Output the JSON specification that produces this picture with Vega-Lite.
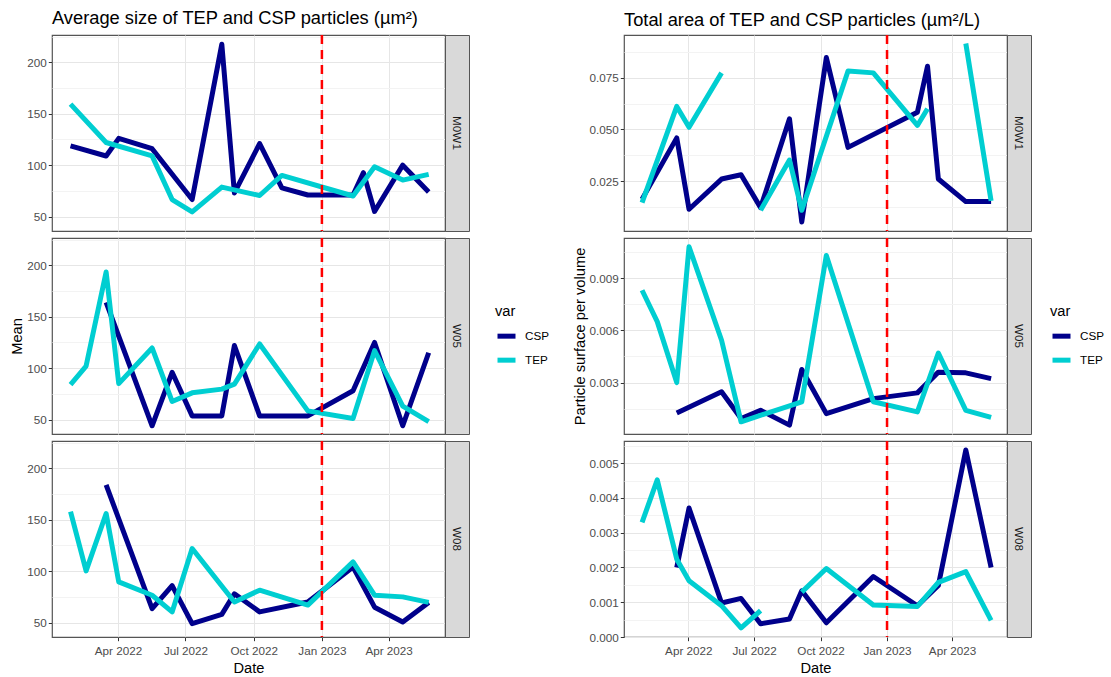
{
  "$schema": "https://vega.github.io/schema/vega-lite/v6.json",
  "background": "white",
  "padding": {"left": 9, "top": 8, "right": 2, "bottom": 2},
  "datasets": {
    "cutoff": [{"date": "2023-01-01"}],
    "obs": [
      {"plot": "size", "site": "M0W1", "var": "CSP", "date": "2022-01-27", "value": 118.7},
      {"plot": "size", "site": "M0W1", "var": "CSP", "date": "2022-03-16", "value": 108.9},
      {"plot": "size", "site": "M0W1", "var": "CSP", "date": "2022-04-02", "value": 126},
      {"plot": "size", "site": "M0W1", "var": "CSP", "date": "2022-05-17", "value": 116},
      {"plot": "size", "site": "M0W1", "var": "CSP", "date": "2022-07-10", "value": 66.6},
      {"plot": "size", "site": "M0W1", "var": "CSP", "date": "2022-08-19", "value": 217.5},
      {"plot": "size", "site": "M0W1", "var": "CSP", "date": "2022-09-05", "value": 73},
      {"plot": "size", "site": "M0W1", "var": "CSP", "date": "2022-10-09", "value": 121},
      {"plot": "size", "site": "M0W1", "var": "CSP", "date": "2022-11-08", "value": 78},
      {"plot": "size", "site": "M0W1", "var": "CSP", "date": "2022-12-13", "value": 71},
      {"plot": "size", "site": "M0W1", "var": "CSP", "date": "2023-02-12", "value": 71},
      {"plot": "size", "site": "M0W1", "var": "CSP", "date": "2023-02-26", "value": 92.7},
      {"plot": "size", "site": "M0W1", "var": "CSP", "date": "2023-03-13", "value": 55},
      {"plot": "size", "site": "M0W1", "var": "CSP", "date": "2023-04-20", "value": 100},
      {"plot": "size", "site": "M0W1", "var": "CSP", "date": "2023-05-25", "value": 74},
      {"plot": "size", "site": "M0W1", "var": "TEP", "date": "2022-01-27", "value": 159.3},
      {"plot": "size", "site": "M0W1", "var": "TEP", "date": "2022-03-16", "value": 122},
      {"plot": "size", "site": "M0W1", "var": "TEP", "date": "2022-05-17", "value": 109},
      {"plot": "size", "site": "M0W1", "var": "TEP", "date": "2022-06-13", "value": 66.6},
      {"plot": "size", "site": "M0W1", "var": "TEP", "date": "2022-07-10", "value": 54.6},
      {"plot": "size", "site": "M0W1", "var": "TEP", "date": "2022-08-19", "value": 78.7},
      {"plot": "size", "site": "M0W1", "var": "TEP", "date": "2022-10-09", "value": 70.5},
      {"plot": "size", "site": "M0W1", "var": "TEP", "date": "2022-11-08", "value": 90},
      {"plot": "size", "site": "M0W1", "var": "TEP", "date": "2023-02-12", "value": 70},
      {"plot": "size", "site": "M0W1", "var": "TEP", "date": "2023-03-13", "value": 98.5},
      {"plot": "size", "site": "M0W1", "var": "TEP", "date": "2023-04-20", "value": 85.5},
      {"plot": "size", "site": "M0W1", "var": "TEP", "date": "2023-05-25", "value": 91},
      {"plot": "size", "site": "W05", "var": "CSP", "date": "2022-03-16", "value": 164},
      {"plot": "size", "site": "W05", "var": "CSP", "date": "2022-05-17", "value": 44},
      {"plot": "size", "site": "W05", "var": "CSP", "date": "2022-06-13", "value": 96},
      {"plot": "size", "site": "W05", "var": "CSP", "date": "2022-07-10", "value": 53.6},
      {"plot": "size", "site": "W05", "var": "CSP", "date": "2022-08-19", "value": 53.6},
      {"plot": "size", "site": "W05", "var": "CSP", "date": "2022-09-05", "value": 122},
      {"plot": "size", "site": "W05", "var": "CSP", "date": "2022-10-09", "value": 53.6},
      {"plot": "size", "site": "W05", "var": "CSP", "date": "2022-12-13", "value": 53.6},
      {"plot": "size", "site": "W05", "var": "CSP", "date": "2023-02-12", "value": 78},
      {"plot": "size", "site": "W05", "var": "CSP", "date": "2023-03-13", "value": 125},
      {"plot": "size", "site": "W05", "var": "CSP", "date": "2023-04-20", "value": 44},
      {"plot": "size", "site": "W05", "var": "CSP", "date": "2023-05-25", "value": 115},
      {"plot": "size", "site": "W05", "var": "TEP", "date": "2022-01-27", "value": 84},
      {"plot": "size", "site": "W05", "var": "TEP", "date": "2022-02-17", "value": 102},
      {"plot": "size", "site": "W05", "var": "TEP", "date": "2022-03-16", "value": 193.5},
      {"plot": "size", "site": "W05", "var": "TEP", "date": "2022-04-02", "value": 85},
      {"plot": "size", "site": "W05", "var": "TEP", "date": "2022-05-17", "value": 119.6},
      {"plot": "size", "site": "W05", "var": "TEP", "date": "2022-06-13", "value": 67.6},
      {"plot": "size", "site": "W05", "var": "TEP", "date": "2022-07-10", "value": 76},
      {"plot": "size", "site": "W05", "var": "TEP", "date": "2022-08-19", "value": 79.6},
      {"plot": "size", "site": "W05", "var": "TEP", "date": "2022-09-05", "value": 84.5},
      {"plot": "size", "site": "W05", "var": "TEP", "date": "2022-10-09", "value": 123.5},
      {"plot": "size", "site": "W05", "var": "TEP", "date": "2022-12-13", "value": 58.5},
      {"plot": "size", "site": "W05", "var": "TEP", "date": "2023-02-12", "value": 51},
      {"plot": "size", "site": "W05", "var": "TEP", "date": "2023-03-13", "value": 117},
      {"plot": "size", "site": "W05", "var": "TEP", "date": "2023-04-20", "value": 63},
      {"plot": "size", "site": "W05", "var": "TEP", "date": "2023-05-25", "value": 48},
      {"plot": "size", "site": "W08", "var": "CSP", "date": "2022-03-16", "value": 183.8},
      {"plot": "size", "site": "W08", "var": "CSP", "date": "2022-05-17", "value": 63.6},
      {"plot": "size", "site": "W08", "var": "CSP", "date": "2022-06-13", "value": 86},
      {"plot": "size", "site": "W08", "var": "CSP", "date": "2022-07-10", "value": 49},
      {"plot": "size", "site": "W08", "var": "CSP", "date": "2022-08-19", "value": 58},
      {"plot": "size", "site": "W08", "var": "CSP", "date": "2022-09-05", "value": 78},
      {"plot": "size", "site": "W08", "var": "CSP", "date": "2022-10-09", "value": 60.4},
      {"plot": "size", "site": "W08", "var": "CSP", "date": "2022-12-13", "value": 70},
      {"plot": "size", "site": "W08", "var": "CSP", "date": "2023-02-12", "value": 104},
      {"plot": "size", "site": "W08", "var": "CSP", "date": "2023-03-13", "value": 65},
      {"plot": "size", "site": "W08", "var": "CSP", "date": "2023-04-20", "value": 50.6},
      {"plot": "size", "site": "W08", "var": "CSP", "date": "2023-05-25", "value": 69.6},
      {"plot": "size", "site": "W08", "var": "TEP", "date": "2022-01-27", "value": 157.8},
      {"plot": "size", "site": "W08", "var": "TEP", "date": "2022-02-17", "value": 100.3},
      {"plot": "size", "site": "W08", "var": "TEP", "date": "2022-03-16", "value": 156},
      {"plot": "size", "site": "W08", "var": "TEP", "date": "2022-04-02", "value": 89.6},
      {"plot": "size", "site": "W08", "var": "TEP", "date": "2022-05-17", "value": 76.6},
      {"plot": "size", "site": "W08", "var": "TEP", "date": "2022-06-13", "value": 60.4},
      {"plot": "size", "site": "W08", "var": "TEP", "date": "2022-07-10", "value": 122},
      {"plot": "size", "site": "W08", "var": "TEP", "date": "2022-09-05", "value": 70},
      {"plot": "size", "site": "W08", "var": "TEP", "date": "2022-10-09", "value": 81.5},
      {"plot": "size", "site": "W08", "var": "TEP", "date": "2022-12-13", "value": 67},
      {"plot": "size", "site": "W08", "var": "TEP", "date": "2023-02-12", "value": 109},
      {"plot": "size", "site": "W08", "var": "TEP", "date": "2023-03-13", "value": 76.6},
      {"plot": "size", "site": "W08", "var": "TEP", "date": "2023-04-20", "value": 75},
      {"plot": "size", "site": "W08", "var": "TEP", "date": "2023-05-25", "value": 69.6},
      {"plot": "area", "site": "M0W1", "var": "CSP", "date": "2022-01-27", "value": 0.0163},
      {"plot": "area", "site": "M0W1", "var": "CSP", "date": "2022-03-16", "value": 0.0459},
      {"plot": "area", "site": "M0W1", "var": "CSP", "date": "2022-04-02", "value": 0.0114},
      {"plot": "area", "site": "M0W1", "var": "CSP", "date": "2022-05-17", "value": 0.026},
      {"plot": "area", "site": "M0W1", "var": "CSP", "date": "2022-06-13", "value": 0.0281},
      {"plot": "area", "site": "M0W1", "var": "CSP", "date": "2022-07-10", "value": 0.0122},
      {"plot": "area", "site": "M0W1", "var": "CSP", "date": "2022-08-19", "value": 0.0551},
      {"plot": "area", "site": "M0W1", "var": "CSP", "date": "2022-09-05", "value": 0.0053},
      {"plot": "area", "site": "M0W1", "var": "CSP", "date": "2022-10-09", "value": 0.0847},
      {"plot": "area", "site": "M0W1", "var": "CSP", "date": "2022-11-08", "value": 0.0413},
      {"plot": "area", "site": "M0W1", "var": "CSP", "date": "2023-02-12", "value": 0.0583},
      {"plot": "area", "site": "M0W1", "var": "CSP", "date": "2023-02-26", "value": 0.0805},
      {"plot": "area", "site": "M0W1", "var": "CSP", "date": "2023-03-13", "value": 0.026},
      {"plot": "area", "site": "M0W1", "var": "CSP", "date": "2023-04-20", "value": 0.0151},
      {"plot": "area", "site": "M0W1", "var": "CSP", "date": "2023-05-25", "value": 0.0151},
      {"plot": "area", "site": "M0W1", "var": "TEP", "date": "2022-01-27", "value": 0.0146},
      {"plot": "area", "site": "M0W1", "var": "TEP", "date": "2022-03-16", "value": 0.0611},
      {"plot": "area", "site": "M0W1", "var": "TEP", "date": "2022-04-02", "value": 0.051},
      {"plot": "area", "site": "M0W1", "var": "TEP", "date": "2022-05-17", "value": 0.0773},
      {"plot": "area", "site": "M0W1", "var": "TEP", "date": "2022-06-13", "value": null},
      {"plot": "area", "site": "M0W1", "var": "TEP", "date": "2022-07-10", "value": 0.0109},
      {"plot": "area", "site": "M0W1", "var": "TEP", "date": "2022-08-19", "value": 0.0352},
      {"plot": "area", "site": "M0W1", "var": "TEP", "date": "2022-09-05", "value": 0.0109},
      {"plot": "area", "site": "M0W1", "var": "TEP", "date": "2022-11-08", "value": 0.0782},
      {"plot": "area", "site": "M0W1", "var": "TEP", "date": "2022-12-13", "value": 0.0773},
      {"plot": "area", "site": "M0W1", "var": "TEP", "date": "2023-02-12", "value": 0.0519},
      {"plot": "area", "site": "M0W1", "var": "TEP", "date": "2023-02-26", "value": 0.06},
      {"plot": "area", "site": "M0W1", "var": "TEP", "date": "2023-03-13", "value": null},
      {"plot": "area", "site": "M0W1", "var": "TEP", "date": "2023-04-20", "value": 0.0915},
      {"plot": "area", "site": "M0W1", "var": "TEP", "date": "2023-05-25", "value": 0.0155},
      {"plot": "area", "site": "W05", "var": "CSP", "date": "2022-03-16", "value": 0.00126},
      {"plot": "area", "site": "W05", "var": "CSP", "date": "2022-05-17", "value": 0.00247},
      {"plot": "area", "site": "W05", "var": "CSP", "date": "2022-06-13", "value": 0.00094},
      {"plot": "area", "site": "W05", "var": "CSP", "date": "2022-07-10", "value": 0.00141},
      {"plot": "area", "site": "W05", "var": "CSP", "date": "2022-08-19", "value": 0.00056},
      {"plot": "area", "site": "W05", "var": "CSP", "date": "2022-09-05", "value": 0.00375},
      {"plot": "area", "site": "W05", "var": "CSP", "date": "2022-10-09", "value": 0.00122},
      {"plot": "area", "site": "W05", "var": "CSP", "date": "2022-12-13", "value": 0.00208},
      {"plot": "area", "site": "W05", "var": "CSP", "date": "2023-02-12", "value": 0.00241},
      {"plot": "area", "site": "W05", "var": "CSP", "date": "2023-03-13", "value": 0.0036},
      {"plot": "area", "site": "W05", "var": "CSP", "date": "2023-04-20", "value": 0.00356},
      {"plot": "area", "site": "W05", "var": "CSP", "date": "2023-05-25", "value": 0.00323},
      {"plot": "area", "site": "W05", "var": "TEP", "date": "2022-01-27", "value": 0.0083},
      {"plot": "area", "site": "W05", "var": "TEP", "date": "2022-02-17", "value": 0.0065},
      {"plot": "area", "site": "W05", "var": "TEP", "date": "2022-03-16", "value": 0.003},
      {"plot": "area", "site": "W05", "var": "TEP", "date": "2022-04-02", "value": 0.0108},
      {"plot": "area", "site": "W05", "var": "TEP", "date": "2022-05-17", "value": 0.00543},
      {"plot": "area", "site": "W05", "var": "TEP", "date": "2022-06-13", "value": 0.00075},
      {"plot": "area", "site": "W05", "var": "TEP", "date": "2022-09-05", "value": 0.0019},
      {"plot": "area", "site": "W05", "var": "TEP", "date": "2022-10-09", "value": 0.0103},
      {"plot": "area", "site": "W05", "var": "TEP", "date": "2022-12-13", "value": 0.0019},
      {"plot": "area", "site": "W05", "var": "TEP", "date": "2023-02-12", "value": 0.00132},
      {"plot": "area", "site": "W05", "var": "TEP", "date": "2023-03-13", "value": 0.0047},
      {"plot": "area", "site": "W05", "var": "TEP", "date": "2023-04-20", "value": 0.00141},
      {"plot": "area", "site": "W05", "var": "TEP", "date": "2023-05-25", "value": 0.001},
      {"plot": "area", "site": "W08", "var": "CSP", "date": "2022-03-16", "value": 0.002},
      {"plot": "area", "site": "W08", "var": "CSP", "date": "2022-04-02", "value": 0.00371},
      {"plot": "area", "site": "W08", "var": "CSP", "date": "2022-05-17", "value": 0.00098},
      {"plot": "area", "site": "W08", "var": "CSP", "date": "2022-06-13", "value": 0.00111},
      {"plot": "area", "site": "W08", "var": "CSP", "date": "2022-07-10", "value": 0.00038},
      {"plot": "area", "site": "W08", "var": "CSP", "date": "2022-08-19", "value": 0.00052},
      {"plot": "area", "site": "W08", "var": "CSP", "date": "2022-09-05", "value": 0.00133},
      {"plot": "area", "site": "W08", "var": "CSP", "date": "2022-10-09", "value": 0.00041},
      {"plot": "area", "site": "W08", "var": "CSP", "date": "2022-12-13", "value": 0.00174},
      {"plot": "area", "site": "W08", "var": "CSP", "date": "2023-02-12", "value": 0.0009},
      {"plot": "area", "site": "W08", "var": "CSP", "date": "2023-03-13", "value": 0.00148},
      {"plot": "area", "site": "W08", "var": "CSP", "date": "2023-04-20", "value": 0.00538},
      {"plot": "area", "site": "W08", "var": "CSP", "date": "2023-05-25", "value": 0.002},
      {"plot": "area", "site": "W08", "var": "TEP", "date": "2022-01-27", "value": 0.0033},
      {"plot": "area", "site": "W08", "var": "TEP", "date": "2022-02-17", "value": 0.00452},
      {"plot": "area", "site": "W08", "var": "TEP", "date": "2022-03-16", "value": 0.00224},
      {"plot": "area", "site": "W08", "var": "TEP", "date": "2022-04-02", "value": 0.00162},
      {"plot": "area", "site": "W08", "var": "TEP", "date": "2022-05-17", "value": 0.0009},
      {"plot": "area", "site": "W08", "var": "TEP", "date": "2022-06-13", "value": 0.00026},
      {"plot": "area", "site": "W08", "var": "TEP", "date": "2022-07-10", "value": 0.00076},
      {"plot": "area", "site": "W08", "var": "TEP", "date": "2022-08-19", "value": null},
      {"plot": "area", "site": "W08", "var": "TEP", "date": "2022-09-05", "value": 0.00129},
      {"plot": "area", "site": "W08", "var": "TEP", "date": "2022-10-09", "value": 0.00197},
      {"plot": "area", "site": "W08", "var": "TEP", "date": "2022-12-13", "value": 0.00092},
      {"plot": "area", "site": "W08", "var": "TEP", "date": "2023-02-12", "value": 0.00088},
      {"plot": "area", "site": "W08", "var": "TEP", "date": "2023-03-13", "value": 0.00157},
      {"plot": "area", "site": "W08", "var": "TEP", "date": "2023-04-20", "value": 0.00188},
      {"plot": "area", "site": "W08", "var": "TEP", "date": "2023-05-25", "value": 0.00048}
    ]
  },
  "spacing": 21,
  "resolve": {"scale": {"color": "independent"}},
  "hconcat": [
    {
      "columns": 2,
      "bounds": "flush",
      "spacing": {"row": 7, "column": 0},
      "concat": [
        {
          "width": 393, "height": 196,
          "title": {"text": "Average size of TEP and CSP particles (µm²)"},
          "resolve": {"axis": {"x": "independent"}},
          "layer": [
            {
              "data": {"name": "obs"},
              "transform": [{"filter": "datum.plot === 'size' && datum.site === 'M0W1'"}],
              "mark": {"type": "line", "strokeWidth": 5, "invalid": "break-paths-show-domains"},
              "encoding": {
                "x": {"field": "date", "type": "temporal", "scale": {"domain": [1641081600000, 1686873600000]},
                  "axis": {"title": null, "labels": false, "ticks": false, "tickCount": {"interval": "month", "step": 3}, "gridColor": "#e6e6e6"}},
                "y": {"field": "value", "type": "quantitative", "scale": {"domain": [36, 226.5], "nice": false, "zero": false},
                  "axis": {"title": null, "values": [50, 75, 100, 125, 150, 175, 200, 225],
                    "labelExpr": "datum.value % 50 === 0 ? datum.label : ''",
                    "gridColor": {"condition": {"test": "datum.value % 50 === 0", "value": "#e6e6e6"}, "value": "#f3f3f3"},
                    "tickOpacity": {"condition": {"test": "datum.value % 50 === 0", "value": 1}, "value": 0}}},
                "color": {"field": "var", "type": "nominal", "scale": {"domain": ["CSP", "TEP"], "range": ["#00008b", "#00ced1"]},
                  "legend": {"title": "var", "orient": "none", "legendX": 443, "legendY": 269}}
              }
            },
            {
              "data": {"name": "cutoff"},
              "mark": {"type": "rule", "color": "#ff0000", "strokeWidth": 2.5, "strokeDash": [9, 6]},
              "encoding": {"x": {"field": "date", "type": "temporal",
                "axis": {"title": null, "labels": false, "ticks": false, "values": [1644883200000, 1652659200000, 1660608000000, 1668556800000, 1676419200000, 1684195200000], "gridColor": "#f3f3f3"}}}
            }
          ]
        },
        {
          "width": 24, "height": 196,
          "view": {"fill": "#d9d9d9", "stroke": "#555555"},
          "data": {"values": [{"site": "M0W1"}]},
          "mark": {"type": "text", "angle": 90, "fontSize": 11.7, "color": "#1a1a1a", "align": "center", "baseline": "middle"},
          "encoding": {"text": {"field": "site"}}
        },
        {
          "width": 393, "height": 196,
          "resolve": {"axis": {"x": "independent"}},
          "layer": [
            {
              "data": {"name": "obs"},
              "transform": [{"filter": "datum.plot === 'size' && datum.site === 'W05'"}],
              "mark": {"type": "line", "strokeWidth": 5, "invalid": "break-paths-show-domains"},
              "encoding": {
                "x": {"field": "date", "type": "temporal", "scale": {"domain": [1641081600000, 1686873600000]},
                  "axis": {"title": null, "labels": false, "ticks": false, "tickCount": {"interval": "month", "step": 3}, "gridColor": "#e6e6e6"}},
                "y": {"field": "value", "type": "quantitative", "scale": {"domain": [36, 226.5], "nice": false, "zero": false},
                  "axis": {"title": "Mean", "values": [50, 75, 100, 125, 150, 175, 200, 225],
                    "labelExpr": "datum.value % 50 === 0 ? datum.label : ''",
                    "gridColor": {"condition": {"test": "datum.value % 50 === 0", "value": "#e6e6e6"}, "value": "#f3f3f3"},
                    "tickOpacity": {"condition": {"test": "datum.value % 50 === 0", "value": 1}, "value": 0}}},
                "color": {"field": "var", "type": "nominal", "scale": {"domain": ["CSP", "TEP"], "range": ["#00008b", "#00ced1"]},
                  "legend": {"title": "var", "orient": "none", "legendX": 443, "legendY": 269}}
              }
            },
            {
              "data": {"name": "cutoff"},
              "mark": {"type": "rule", "color": "#ff0000", "strokeWidth": 2.5, "strokeDash": [9, 6]},
              "encoding": {"x": {"field": "date", "type": "temporal",
                "axis": {"title": null, "labels": false, "ticks": false, "values": [1644883200000, 1652659200000, 1660608000000, 1668556800000, 1676419200000, 1684195200000], "gridColor": "#f3f3f3"}}}
            }
          ]
        },
        {
          "width": 24, "height": 196,
          "view": {"fill": "#d9d9d9", "stroke": "#555555"},
          "data": {"values": [{"site": "W05"}]},
          "mark": {"type": "text", "angle": 90, "fontSize": 11.7, "color": "#1a1a1a", "align": "center", "baseline": "middle"},
          "encoding": {"text": {"field": "site"}}
        },
        {
          "width": 393, "height": 196,
          "resolve": {"axis": {"x": "independent"}},
          "layer": [
            {
              "data": {"name": "obs"},
              "transform": [{"filter": "datum.plot === 'size' && datum.site === 'W08'"}],
              "mark": {"type": "line", "strokeWidth": 5, "invalid": "break-paths-show-domains"},
              "encoding": {
                "x": {"field": "date", "type": "temporal", "scale": {"domain": [1641081600000, 1686873600000]},
                  "axis": {"title": "Date", "titlePadding": 3, "labelPadding": 5, "format": "%b %Y", "tickCount": {"interval": "month", "step": 3}, "gridColor": "#e6e6e6"}},
                "y": {"field": "value", "type": "quantitative", "scale": {"domain": [36, 226.5], "nice": false, "zero": false},
                  "axis": {"title": null, "values": [50, 75, 100, 125, 150, 175, 200, 225],
                    "labelExpr": "datum.value % 50 === 0 ? datum.label : ''",
                    "gridColor": {"condition": {"test": "datum.value % 50 === 0", "value": "#e6e6e6"}, "value": "#f3f3f3"},
                    "tickOpacity": {"condition": {"test": "datum.value % 50 === 0", "value": 1}, "value": 0}}},
                "color": {"field": "var", "type": "nominal", "scale": {"domain": ["CSP", "TEP"], "range": ["#00008b", "#00ced1"]},
                  "legend": {"title": "var", "orient": "none", "legendX": 443, "legendY": 269}}
              }
            },
            {
              "data": {"name": "cutoff"},
              "mark": {"type": "rule", "color": "#ff0000", "strokeWidth": 2.5, "strokeDash": [9, 6]},
              "encoding": {"x": {"field": "date", "type": "temporal",
                "axis": {"title": null, "labels": false, "ticks": false, "values": [1644883200000, 1652659200000, 1660608000000, 1668556800000, 1676419200000, 1684195200000], "gridColor": "#f3f3f3"}}}
            }
          ]
        },
        {
          "width": 24, "height": 196,
          "view": {"fill": "#d9d9d9", "stroke": "#555555"},
          "data": {"values": [{"site": "W08"}]},
          "mark": {"type": "text", "angle": 90, "fontSize": 11.7, "color": "#1a1a1a", "align": "center", "baseline": "middle"},
          "encoding": {"text": {"field": "site"}}
        }
      ]
    },
    {
      "columns": 2,
      "bounds": "flush",
      "spacing": {"row": 7, "column": 0},
      "concat": [
        {
          "width": 383, "height": 196,
          "title": {"text": "Total area of TEP and CSP particles (µm²/L)"},
          "resolve": {"axis": {"x": "independent"}},
          "layer": [
            {
              "data": {"name": "obs"},
              "transform": [{"filter": "datum.plot === 'area' && datum.site === 'M0W1'"}],
              "mark": {"type": "line", "strokeWidth": 5, "invalid": "break-paths-show-domains"},
              "encoding": {
                "x": {"field": "date", "type": "temporal", "scale": {"domain": [1641081600000, 1686873600000]},
                  "axis": {"title": null, "labels": false, "ticks": false, "tickCount": {"interval": "month", "step": 3}, "gridColor": "#e6e6e6"}},
                "y": {"field": "value", "type": "quantitative", "scale": {"domain": [0.0009, 0.0956], "nice": false, "zero": false},
                  "axis": {"title": null, "format": ".3f", "values": [0.0125, 0.025, 0.0375, 0.05, 0.0625, 0.075, 0.0875],
                    "labelExpr": "abs(datum.value * 40 - round(datum.value * 40)) < 0.001 ? datum.label : ''",
                    "gridColor": {"condition": {"test": "abs(datum.value * 40 - round(datum.value * 40)) < 0.001", "value": "#e6e6e6"}, "value": "#f3f3f3"},
                    "tickOpacity": {"condition": {"test": "abs(datum.value * 40 - round(datum.value * 40)) < 0.001", "value": 1}, "value": 0}}},
                "color": {"field": "var", "type": "nominal", "scale": {"domain": ["CSP", "TEP"], "range": ["#00008b", "#00ced1"]},
                  "legend": {"title": "var", "orient": "none", "legendX": 426, "legendY": 269}}
              }
            },
            {
              "data": {"name": "cutoff"},
              "mark": {"type": "rule", "color": "#ff0000", "strokeWidth": 2.5, "strokeDash": [9, 6]},
              "encoding": {"x": {"field": "date", "type": "temporal",
                "axis": {"title": null, "labels": false, "ticks": false, "values": [1644883200000, 1652659200000, 1660608000000, 1668556800000, 1676419200000, 1684195200000], "gridColor": "#f3f3f3"}}}
            }
          ]
        },
        {
          "width": 24, "height": 196,
          "view": {"fill": "#d9d9d9", "stroke": "#555555"},
          "data": {"values": [{"site": "M0W1"}]},
          "mark": {"type": "text", "angle": 90, "fontSize": 11.7, "color": "#1a1a1a", "align": "center", "baseline": "middle"},
          "encoding": {"text": {"field": "site"}}
        },
        {
          "width": 383, "height": 196,
          "resolve": {"axis": {"x": "independent"}},
          "layer": [
            {
              "data": {"name": "obs"},
              "transform": [{"filter": "datum.plot === 'area' && datum.site === 'W05'"}],
              "mark": {"type": "line", "strokeWidth": 5, "invalid": "break-paths-show-domains"},
              "encoding": {
                "x": {"field": "date", "type": "temporal", "scale": {"domain": [1641081600000, 1686873600000]},
                  "axis": {"title": null, "labels": false, "ticks": false, "tickCount": {"interval": "month", "step": 3}, "gridColor": "#e6e6e6"}},
                "y": {"field": "value", "type": "quantitative", "scale": {"domain": [0.00005, 0.0113], "nice": false, "zero": false},
                  "axis": {"title": "Particle surface per volume", "format": ".3f", "values": [0.0015, 0.003, 0.0045, 0.006, 0.0075, 0.009, 0.0105],
                    "labelExpr": "abs(datum.value / 0.003 - round(datum.value / 0.003)) < 0.001 ? datum.label : ''",
                    "gridColor": {"condition": {"test": "abs(datum.value / 0.003 - round(datum.value / 0.003)) < 0.001", "value": "#e6e6e6"}, "value": "#f3f3f3"},
                    "tickOpacity": {"condition": {"test": "abs(datum.value / 0.003 - round(datum.value / 0.003)) < 0.001", "value": 1}, "value": 0}}},
                "color": {"field": "var", "type": "nominal", "scale": {"domain": ["CSP", "TEP"], "range": ["#00008b", "#00ced1"]},
                  "legend": {"title": "var", "orient": "none", "legendX": 426, "legendY": 269}}
              }
            },
            {
              "data": {"name": "cutoff"},
              "mark": {"type": "rule", "color": "#ff0000", "strokeWidth": 2.5, "strokeDash": [9, 6]},
              "encoding": {"x": {"field": "date", "type": "temporal",
                "axis": {"title": null, "labels": false, "ticks": false, "values": [1644883200000, 1652659200000, 1660608000000, 1668556800000, 1676419200000, 1684195200000], "gridColor": "#f3f3f3"}}}
            }
          ]
        },
        {
          "width": 24, "height": 196,
          "view": {"fill": "#d9d9d9", "stroke": "#555555"},
          "data": {"values": [{"site": "W05"}]},
          "mark": {"type": "text", "angle": 90, "fontSize": 11.7, "color": "#1a1a1a", "align": "center", "baseline": "middle"},
          "encoding": {"text": {"field": "site"}}
        },
        {
          "width": 383, "height": 196,
          "resolve": {"axis": {"x": "independent"}},
          "layer": [
            {
              "data": {"name": "obs"},
              "transform": [{"filter": "datum.plot === 'area' && datum.site === 'W08'"}],
              "mark": {"type": "line", "strokeWidth": 5, "invalid": "break-paths-show-domains"},
              "encoding": {
                "x": {"field": "date", "type": "temporal", "scale": {"domain": [1641081600000, 1686873600000]},
                  "axis": {"title": "Date", "titlePadding": 3, "labelPadding": 5, "format": "%b %Y", "tickCount": {"interval": "month", "step": 3}, "gridColor": "#e6e6e6"}},
                "y": {"field": "value", "type": "quantitative", "scale": {"domain": [0, 0.00564], "nice": false, "zero": false},
                  "axis": {"title": null, "format": ".3f", "values": [0, 0.0005, 0.001, 0.0015, 0.002, 0.0025, 0.003, 0.0035, 0.004, 0.0045, 0.005, 0.0055],
                    "labelExpr": "abs(datum.value * 1000 - round(datum.value * 1000)) < 0.001 ? datum.label : ''",
                    "gridColor": {"condition": {"test": "abs(datum.value * 1000 - round(datum.value * 1000)) < 0.001", "value": "#e6e6e6"}, "value": "#f3f3f3"},
                    "tickOpacity": {"condition": {"test": "abs(datum.value * 1000 - round(datum.value * 1000)) < 0.001", "value": 1}, "value": 0}}},
                "color": {"field": "var", "type": "nominal", "scale": {"domain": ["CSP", "TEP"], "range": ["#00008b", "#00ced1"]},
                  "legend": {"title": "var", "orient": "none", "legendX": 426, "legendY": 269}}
              }
            },
            {
              "data": {"name": "cutoff"},
              "mark": {"type": "rule", "color": "#ff0000", "strokeWidth": 2.5, "strokeDash": [9, 6]},
              "encoding": {"x": {"field": "date", "type": "temporal",
                "axis": {"title": null, "labels": false, "ticks": false, "values": [1644883200000, 1652659200000, 1660608000000, 1668556800000, 1676419200000, 1684195200000], "gridColor": "#f3f3f3"}}}
            }
          ]
        },
        {
          "width": 24, "height": 196,
          "view": {"fill": "#d9d9d9", "stroke": "#555555"},
          "data": {"values": [{"site": "W08"}]},
          "mark": {"type": "text", "angle": 90, "fontSize": 11.7, "color": "#1a1a1a", "align": "center", "baseline": "middle"},
          "encoding": {"text": {"field": "site"}}
        }
      ]
    }
  ],
  "config": {
    "font": "Liberation Sans",
    "view": {"stroke": "#555555", "strokeWidth": 1.2},
    "line": {"strokeJoin": "round", "strokeCap": "butt"},
    "axis": {
      "labelFont": "Liberation Sans", "labelFontSize": 11.7, "labelColor": "#4d4d4d",
      "labelPadding": 2, "labelOverlap": false, "labelFlush": false,
      "tickColor": "#333333", "tickSize": 3.7, "tickWidth": 1,
      "domain": false, "grid": true, "gridWidth": 1,
      "titleFont": "Liberation Sans", "titleFontSize": 14.67, "titleFontWeight": "normal", "titleColor": "#000000", "titlePadding": 2
    },
    "legend": {
      "titleFont": "Liberation Sans", "titleFontSize": 14.67, "titleFontWeight": "normal", "titleColor": "#000000", "titlePadding": 6,
      "labelFont": "Liberation Sans", "labelFontSize": 11.7, "labelColor": "#000000", "labelOffset": 7,
      "symbolType": "stroke", "symbolSize": 324, "symbolStrokeWidth": 5, "rowPadding": 5, "padding": 0
    },
    "title": {
      "font": "Liberation Sans", "fontSize": 18.3, "fontWeight": "normal", "color": "#000000",
      "anchor": "start", "frame": "group", "baseline": "alphabetic", "offset": 3
    }
  }
}
